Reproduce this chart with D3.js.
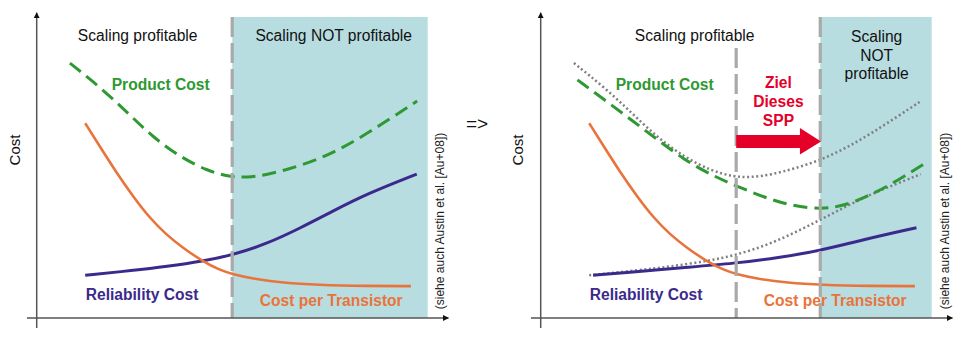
<!DOCTYPE html>
<html><head><meta charset="utf-8">
<script src="https://cdn.jsdelivr.net/npm/d3@7"></script>
<style>
html,body{margin:0;padding:0;background:#fff;}
svg{display:block;font-family:"Liberation Sans",Arial,sans-serif;}
</style></head>
<body><svg id="chart" width="958" height="341"></svg>
<script>
// ---- data (x: technology scaling 0-100, y: cost 0-100) ----
const productCost = [[8.5,84.7],[16.2,76.7],[23.1,68.4],[29.7,60.1],[36.7,53.5],[43.6,48.9],[49.4,46.9],[53.8,46.7],[58.9,47.6],[64.8,49.6],[71.7,52.5],[78.3,56.6],[84.5,61.3],[91.1,66.8],[97.3,72.1]];
const costPerTransistor = [[12.4,64.7],[16.2,56.9],[20.5,48.1],[24.7,40.3],[29.0,33.1],[33.2,27.6],[37.5,23.2],[42.6,18.7],[46.9,15.9],[50.0,14.6],[55.4,13.0],[63.1,11.7],[71.6,11.0],[84.4,10.6],[95.7,10.6]];
const reliabilityCost = [[12.4,14.2],[24.7,15.8],[33.2,17.1],[42.6,18.9],[50.0,20.9],[58.8,24.6],[67.3,29.8],[75.9,35.6],[84.4,41.2],[97.2,47.8]];
const productCostNew = [[9.4,79.1],[16.4,72.4],[23.2,65.8],[30.0,59.1],[36.8,52.5],[43.6,47.5],[50.0,43.9],[57.3,40.0],[64.1,37.3],[71.8,36.1],[77.7,37.3],[84.6,40.9],[91.4,45.8],[98.6,51.6]];
const reliabilityCostNew = [[13.4,14.2],[26.6,15.6],[35.1,16.6],[50.0,18.2],[60.7,20.0],[71.7,22.4],[82.0,25.9],[96.1,30.0]];
const boundariesLeft = [50];
const boundariesRight = [50, 71.5];
const regionLabels = ["Scaling profitable", "Scaling NOT profitable"];
const seriesLabels = ["Product Cost", "Reliability Cost", "Cost per Transistor"];
const goalLabel = ["Ziel", "Dieses", "SPP"];
const yLabel = "Cost";
const citation = "(siehe auch Austin et al. [Au+08])";

const C = {teal:"#b8dde1", green:"#2e9932", purple:"#3b2a8c", orange:"#e8743b", red:"#e5002a", grayDash:"#a9a9a9", dotted:"#7f7f7f", axis:"#555"};

const svg = d3.select("#chart");
const x = d3.scaleLinear().domain([0,100]).range([0,391]);
const y = d3.scaleLinear().domain([0,100]).range([318,17]);
const line = d3.line().x(d=>x(d[0])).y(d=>y(d[1])).curve(d3.curveBasis);

const defs = svg.append("defs");
defs.append("marker").attr("id","arr").attr("viewBox","0 0 10 10").attr("refX",9).attr("refY",5)
  .attr("markerWidth",6).attr("markerHeight",6).attr("markerUnits","userSpaceOnUse").attr("orient","auto")
  .append("path").attr("d","M0,0 L10,5 L0,10 z").attr("fill","#111");

function panel(ox, cfg){
  const g = svg.append("g").attr("transform",`translate(${ox},0)`);
  const shadeStart = cfg.bounds[cfg.bounds.length-1];
  g.append("rect").attr("x",x(shadeStart)).attr("y",y(100)).attr("width",x(100)-x(shadeStart)).attr("height",y(0)-y(100)).attr("fill",C.teal);

  if(cfg.dotted){
    [productCost, reliabilityCost].forEach(s=>{
      g.append("path").attr("d",line(s)).attr("fill","none").attr("stroke",C.dotted).attr("stroke-width",2.5).attr("stroke-dasharray","2,2.6");
    });
  }
  g.append("path").attr("d",line(cfg.rel)).attr("fill","none").attr("stroke",C.purple).attr("stroke-width",3);
  g.append("path").attr("d",line(costPerTransistor)).attr("fill","none").attr("stroke",C.orange).attr("stroke-width",2.6);
  g.append("path").attr("d",line(cfg.prod)).attr("fill","none").attr("stroke",C.green).attr("stroke-width",3).attr("stroke-dasharray","14,7");

  const fs = "15.6px";
  g.append("text").attr("x",cfg.prodLbl[0]).attr("y",cfg.prodLbl[1]).attr("fill",C.green).attr("font-weight","bold").attr("font-size",fs).text(seriesLabels[0]);
  g.append("text").attr("x",cfg.relLbl[0]).attr("y",cfg.relLbl[1]).attr("fill",C.purple).attr("font-weight","bold").attr("font-size",fs).text(seriesLabels[1]);
  g.append("text").attr("x",cfg.cptLbl[0]).attr("y",cfg.cptLbl[1]).attr("fill",C.orange).attr("font-weight","bold").attr("font-size",fs).text(seriesLabels[2]);

  g.append("text").attr("x",cfg.profX).attr("y",41).attr("text-anchor","middle").attr("font-size",fs).attr("fill","#111").text(regionLabels[0]);
  if(cfg.notMulti){
    const words = ["Scaling","NOT","profitable"];
    words.forEach((w,i)=> g.append("text").attr("x",cfg.notX).attr("y",42+i*18.5).attr("text-anchor","middle").attr("font-size",fs).attr("fill","#111").text(w));
  } else {
    g.append("text").attr("x",cfg.notX).attr("y",41).attr("text-anchor","middle").attr("font-size",fs).attr("fill","#111").text(regionLabels[1]);
  }

  cfg.bounds.forEach((b,i)=>{
    const top = (cfg.partialTop && i===0) ? cfg.partialTop : 100;
    g.append("line").attr("x1",x(b)).attr("x2",x(b)).attr("y1",y(top)).attr("y2",y(0))
      .attr("stroke",C.grayDash).attr("stroke-width",3.2).attr("stroke-dasharray","20,6");
  });

  if(cfg.goal){
    const x0=x(50), xh=x(66.3), xt=x(71.7);
    const pts=[[x0,y(60.8)],[xh,y(60.8)],[xh,y(63.1)],[xt,y(58.6)],[xh,y(54.3)],[xh,y(56.5)],[x0,y(56.5)]];
    g.append("path").attr("d",d3.line()(pts)+"Z").attr("fill",C.red);
    goalLabel.forEach((w,i)=> g.append("text").attr("x",x(60.8)).attr("y",88+i*19).attr("text-anchor","middle").attr("font-weight","bold").attr("font-size",fs).attr("fill",C.red).text(w));
  }

  g.append("line").attr("x1",x(-2.5)).attr("x2",x(105.3)).attr("y1",y(0)).attr("y2",y(0)).attr("stroke",C.axis).attr("stroke-width",1.5).attr("marker-end","url(#arr)");
  g.append("line").attr("x1",x(0)).attr("x2",x(0)).attr("y1",y(-3.3)).attr("y2",y(101.4)).attr("stroke",C.axis).attr("stroke-width",1.5).attr("marker-end","url(#arr)");

  g.append("text").attr("transform",`translate(${cfg.costX},150) rotate(-90)`).attr("text-anchor","middle").attr("font-size","15px").attr("fill","#111").text(yLabel);
  g.append("text").attr("transform",`translate(${cfg.citeX},221) rotate(-90)`).attr("text-anchor","middle").attr("font-size","12px").attr("fill","#222").text(citation);
  return g;
}

panel(36.7, {bounds:boundariesLeft, prod:productCost, rel:reliabilityCost, dotted:false,
  prodLbl:[75,90], relLbl:[49,300], cptLbl:[223,306], profX:101, notX:297, notMulti:false, costX:-17, citeX:407, goal:false});
panel(540.7, {bounds:boundariesRight, prod:productCostNew, rel:reliabilityCostNew, dotted:true, partialTop:89.7,
  prodLbl:[75,90], relLbl:[49,300], cptLbl:[223,306], profX:154, notX:336, notMulti:true, costX:-18, citeX:408, goal:true});

svg.append("text").attr("x",477).attr("y",130).attr("text-anchor","middle").attr("font-size","19px").attr("fill","#111").text("=>");
</script></body></html>
